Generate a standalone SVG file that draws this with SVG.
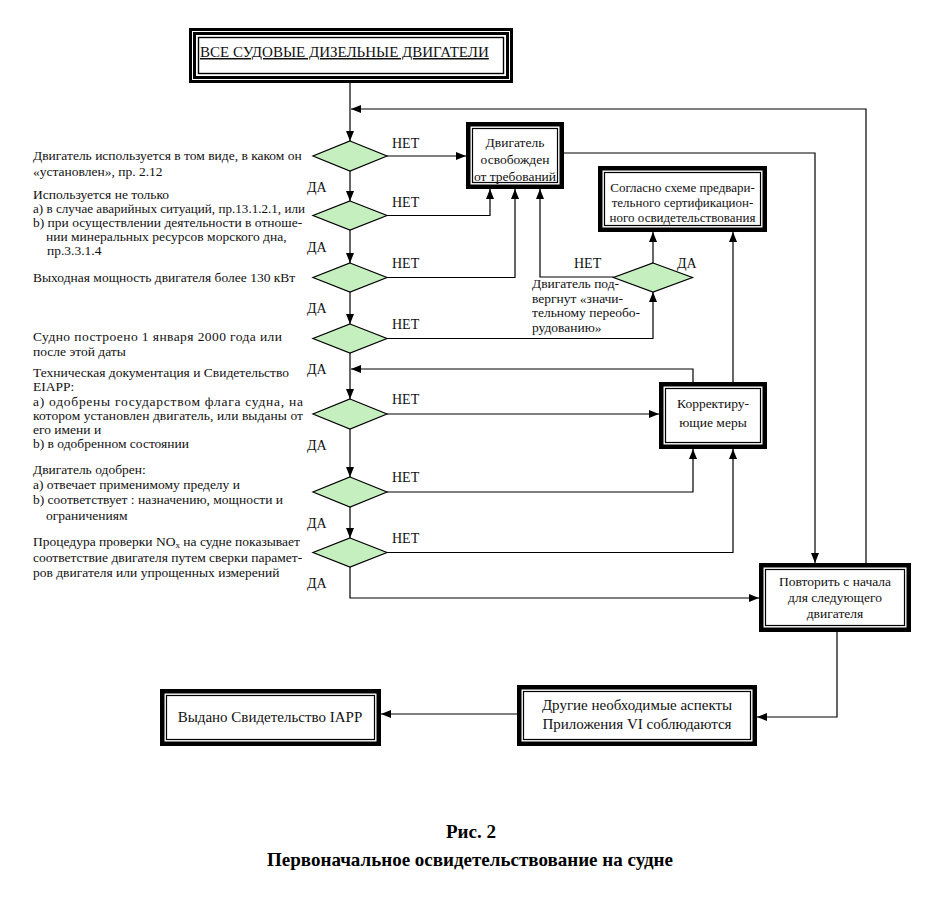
<svg xmlns="http://www.w3.org/2000/svg" width="941" height="918" viewBox="0 0 941 918">
<defs>
<style>
text{font-family:"Liberation Serif","Times New Roman",serif;fill:#111}
.lt{font-size:13.5px}
.bt{font-size:13.5px;text-anchor:middle}
.bs{font-size:13px;text-anchor:middle}
.bb{font-size:15px;text-anchor:middle}
.yn{font-size:14px}
.cap{font-size:19px;font-weight:bold;text-anchor:middle;fill:#000}
.ob{fill:#fff;stroke:#000;stroke-width:4.5}
.ib{fill:none;stroke:#000;stroke-width:1.2}
.dm{fill:#c6efbf;stroke:#000;stroke-width:1.2}
.cn{fill:none;stroke:#000;stroke-width:1.2}
</style>
<marker id="ar" markerUnits="userSpaceOnUse" markerWidth="10" markerHeight="8" refX="10" refY="4" orient="auto">
<path d="M0,0 L10,4 L0,8 z" fill="#000"/>
</marker>
</defs>
<rect width="941" height="918" fill="#fff"/>

<g id="connectors" class="cn" marker-end="url(#ar)">
<path d="M350,83 V141"/>
<path d="M866,563 V109 H351"/>
<path d="M387,156 H466"/>
<path d="M350,171 V201"/>
<path d="M387,215.5 H490 V189"/>
<path d="M350,230 V263"/>
<path d="M387,277.5 H515 V189"/>
<path d="M350,292 V324"/>
<path d="M387,338.5 H653 V292"/>
<path d="M350,353 V399"/>
<path d="M693,382 V369 H351"/>
<path d="M387,414 H659"/>
<path d="M350,429 V477"/>
<path d="M387,492 H693 V449"/>
<path d="M350,507 V538"/>
<path d="M387,552.5 H733 V449"/>
<path d="M350,567 V598 H759"/>
<path d="M614,277 H540 V189"/>
<path d="M653,263 V232"/>
<path d="M733,382 V232"/>
<path d="M564,153 H815 V563"/>
<path d="M837,632 V717 H757"/>
<path d="M517,714 H381"/>
</g>

<g id="start">
<rect x="192.5" y="31.5" width="317" height="48" fill="#fff" stroke="#000" stroke-width="7"/>
<rect x="192.5" y="31.5" width="317" height="48" fill="none" stroke="#fff" stroke-width="1"/>
<rect x="198.5" y="37.5" width="305" height="36" fill="none" stroke="#000" stroke-width="1.4"/>
<text x="200" y="57" style="font-size:15px;text-decoration:underline">ВСЕ СУДОВЫЕ ДИЗЕЛЬНЫЕ ДВИГАТЕЛИ</text>
</g>

<g id="d1">
<polygon class="dm" points="350,141 387,156 350,171 313,156"/>
<text class="lt" x="33" y="160">Двигатель используется в том виде, в каком он</text>
<text class="lt" x="33" y="176">«установлен», пр. 2.12</text>
<text class="yn" x="392" y="148">НЕТ</text>
<text class="yn" x="307" y="192">ДА</text>
</g>

<g id="d2">
<polygon class="dm" points="350,201 387,215.5 350,230 313,215.5"/>
<text class="lt" x="33" y="199">Используется не только</text>
<text class="lt" x="33" y="213" textLength="272" lengthAdjust="spacingAndGlyphs">a) в случае аварийных ситуаций, пр.13.1.2.1, или</text>
<text class="lt" x="33" y="227">b) при осуществлении деятельности в отноше-</text>
<text class="lt" x="46" y="241">нии минеральных ресурсов морского дна,</text>
<text class="lt" x="47" y="255">пр.3.3.1.4</text>
<text class="yn" x="392" y="207">НЕТ</text>
<text class="yn" x="307" y="252">ДА</text>
</g>

<g id="d3">
<polygon class="dm" points="350,263 387,277.5 350,292 313,277.5"/>
<text class="lt" x="33" y="282">Выходная мощность двигателя более 130 кВт</text>
<text class="yn" x="392" y="268">НЕТ</text>
<text class="yn" x="307" y="313">ДА</text>
</g>

<g id="d4">
<polygon class="dm" points="350,324 387,338.5 350,353 313,338.5"/>
<text class="lt" x="33" y="341" textLength="249" lengthAdjust="spacing">Судно построено 1 января 2000 года или</text>
<text class="lt" x="33" y="356">после этой даты</text>
<text class="yn" x="392" y="329">НЕТ</text>
<text class="yn" x="307" y="374">ДА</text>
</g>

<g id="d5">
<polygon class="dm" points="350,399 387,414 350,429 313,414"/>
<text class="lt" x="33" y="377">Техническая документация и Свидетельство</text>
<text class="lt" x="33" y="391">EIAPP:</text>
<text class="lt" x="33" y="406" textLength="270" lengthAdjust="spacing">a) одобрены государством флага судна, на</text>
<text class="lt" x="33" y="420" textLength="270" lengthAdjust="spacing">котором установлен двигатель, или выданы от</text>
<text class="lt" x="33" y="434">его имени и</text>
<text class="lt" x="33" y="448">b) в одобренном состоянии</text>
<text class="yn" x="392" y="404">НЕТ</text>
<text class="yn" x="307" y="450">ДА</text>
</g>

<g id="d6">
<polygon class="dm" points="350,477 387,492 350,507 313,492"/>
<text class="lt" x="33" y="474">Двигатель одобрен:</text>
<text class="lt" x="33" y="489">a) отвечает применимому пределу и</text>
<text class="lt" x="33" y="504">b) соответствует : назначению, мощности и</text>
<text class="lt" x="46" y="520">ограничениям</text>
<text class="yn" x="392" y="482">НЕТ</text>
<text class="yn" x="307" y="528">ДА</text>
</g>

<g id="d7">
<polygon class="dm" points="350,538 387,552.5 350,567 313,552.5"/>
<text class="lt" x="33" y="546">Процедура проверки NO<tspan font-size="9" baseline-shift="-2">x</tspan> на судне показывает</text>
<text class="lt" x="33" y="562">соответствие двигателя путем сверки парамет-</text>
<text class="lt" x="33" y="577">ров двигателя или упрощенных измерений</text>
<text class="yn" x="392" y="543">НЕТ</text>
<text class="yn" x="307" y="588">ДА</text>
</g>

<g id="exempt">
<rect class="ob" x="468.25" y="124.25" width="93.5" height="62.5"/>
<rect class="ib" x="472.5" y="128.5" width="85" height="54"/>
<text class="bt" x="515" y="147">Двигатель</text>
<text class="bt" x="515" y="164">освобожден</text>
<text class="bt" x="515" y="181">от требований</text>
</g>

<g id="precert">
<rect class="ob" x="600.25" y="168.25" width="164.5" height="61.5"/>
<rect class="ib" x="604.5" y="172.5" width="156" height="53"/>
<text class="bs" x="682.5" y="192">Согласно схеме предвари-</text>
<text class="bs" x="682.5" y="207">тельного сертификацион-</text>
<text class="bs" x="682.5" y="222">ного освидетельствования</text>
</g>

<g id="modified">
<polygon class="dm" points="653,263 692.5,277.5 653,292 613.5,277.5"/>
<text class="yn" x="574" y="268">НЕТ</text>
<text class="yn" x="677" y="268">ДА</text>
<text class="lt" x="532" y="288">Двигатель под-</text>
<text class="lt" x="532" y="303">вергнут «значи-</text>
<text class="lt" x="532" y="317">тельному переобо-</text>
<text class="lt" x="532" y="332">рудованию»</text>
</g>

<g id="corrective">
<rect class="ob" x="661.25" y="384.25" width="103.5" height="62.5"/>
<rect class="ib" x="665.5" y="388.5" width="95" height="54"/>
<text class="bt" x="713" y="408">Корректиру-</text>
<text class="bt" x="713" y="427">ющие меры</text>
</g>

<g id="repeat">
<rect class="ob" x="761.25" y="565.25" width="147.5" height="64.5"/>
<rect class="ib" x="765.5" y="569.5" width="139" height="56"/>
<text class="bt" x="835" y="586">Повторить с начала</text>
<text class="bt" x="835" y="602">для следующего</text>
<text class="bt" x="835" y="618">двигателя</text>
</g>

<g id="other">
<rect class="ob" x="519.25" y="687.25" width="235.5" height="56.5"/>
<rect class="ib" x="523.5" y="691.5" width="227" height="48"/>
<text class="bb" x="637" y="710">Другие необходимые аспекты</text>
<text class="bb" x="637" y="729">Приложения VI соблюдаются</text>
</g>

<g id="issued">
<rect class="ob" x="162.25" y="691.25" width="216.5" height="52.5"/>
<rect class="ib" x="166.5" y="695.5" width="208" height="44"/>
<text class="bb" x="270" y="722">Выдано Свидетельство IAPP</text>
</g>

<g id="caption">
<text class="cap" x="471" y="838">Рис. 2</text>
<text class="cap" x="470" y="866">Первоначальное освидетельствование на судне</text>
</g>
</svg>
